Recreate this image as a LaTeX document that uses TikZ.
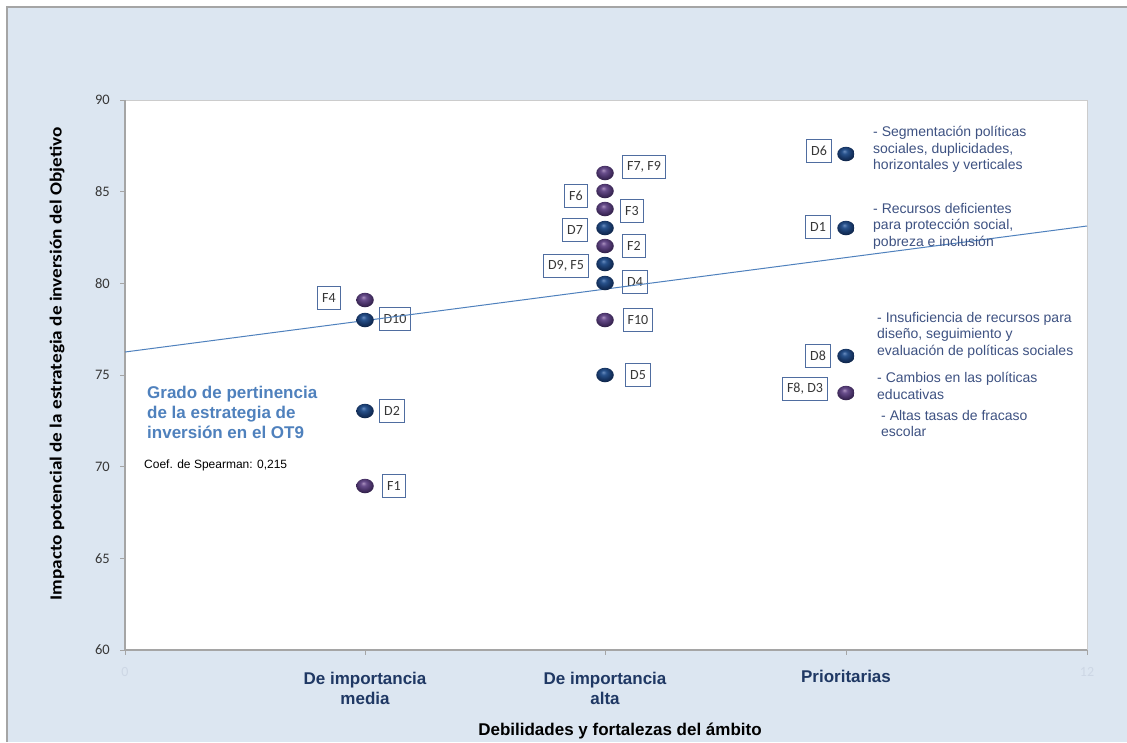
\documentclass[tikz,border=0pt]{standalone}
\usepackage{fontspec}
\usetikzlibrary{shapes.geometric}
\setmainfont{Liberation Sans}
\newfontfamily\cali{Carlito}
\definecolor{bgblue}{RGB}{220,230,241}
\definecolor{framegray}{RGB}{165,165,165}
\definecolor{axisgray}{RGB}{165,165,165}
\definecolor{boxblue}{RGB}{79,109,160}
\definecolor{lbltext}{RGB}{55,55,55}
\definecolor{notetext}{RGB}{62,82,130}
\definecolor{titleblue}{RGB}{79,129,189}
\definecolor{catblue}{RGB}{31,56,100}
\definecolor{trendblue}{RGB}{79,129,189}
\definecolor{faint}{RGB}{205,215,229}
\pgfdeclareradialshading{dball}{\pgfpoint{-5bp}{10bp}}{%
  color(0bp)=(rgb,255:red,105;green,140;blue,190);
  color(8bp)=(rgb,255:red,40;green,82;blue,140);
  color(20bp)=(rgb,255:red,22;green,52;blue,98);
  color(32bp)=(rgb,255:red,12;green,30;blue,60);
  color(50bp)=(rgb,255:red,12;green,30;blue,60)}
\pgfdeclareradialshading{fball}{\pgfpoint{-5bp}{10bp}}{%
  color(0bp)=(rgb,255:red,170;green,145;blue,190);
  color(8bp)=(rgb,255:red,105;green,78;blue,140);
  color(20bp)=(rgb,255:red,70;green,48;blue,100);
  color(32bp)=(rgb,255:red,38;green,24;blue,58);
  color(50bp)=(rgb,255:red,38;green,24;blue,58)}
\begin{document}
\begin{tikzpicture}[x=1pt,y=-1pt,
  dpt/.style={ellipse,minimum width=17.5pt,minimum height=14.5pt,inner sep=0pt,shading=dball},
  fpt/.style={ellipse,minimum width=17.5pt,minimum height=14.5pt,inner sep=0pt,shading=fball},
  lbl/.style={draw=boxblue,fill=white,line width=1pt,font=\cali\fontsize{14}{14}\selectfont,text=lbltext,inner xsep=4.5pt,inner ysep=0pt,minimum height=22.5pt},
  note/.style={align=left,anchor=north west,font=\fontsize{14}{16.5}\selectfont,text=notetext,inner sep=0pt},
  ytick/.style={anchor=east,font=\cali\fontsize{14.5}{14.5}\selectfont,text=lbltext,inner sep=0pt},
  cat/.style={align=center,font=\bfseries\fontsize{17}{20}\selectfont,text=catblue,anchor=north,inner sep=0pt}]
\useasboundingbox (0,0) rectangle (1127,742);
\fill[white] (0,0) rectangle (1127,742);
\fill[bgblue] (7,7) rectangle (1127,742);
\draw[framegray,line width=2.5pt] (7,742) -- (7,7) -- (1127,7);
% plot area
\fill[white] (125,100) rectangle (1087,650);
\draw[gray!40,line width=0.8pt] (125,100) -- (1087,100) -- (1087,650);
\draw[axisgray,line width=1.6pt] (125,100) -- (125,650) -- (1087,650);
% y ticks
\foreach \v/\yy in {90/100,85/191.7,80/283.3,75/375,70/466.7,65/558.3,60/650}{
  \draw[axisgray,line width=1pt] (120,\yy) -- (125,\yy);
  \node[ytick] (yt\v) at (110,\yy) {\v};
}
\foreach \xx in {125,365,605,846,1087}{
  \draw[axisgray,line width=1pt] (\xx,650) -- (\xx,655);
}
\node[text=faint,font=\cali\fontsize{14}{14}\selectfont] (x0) at (125,672) {0};
\node[text=faint,font=\cali\fontsize{14}{14}\selectfont] (x12) at (1087,672) {12};
% category labels
\node[cat] (c1) at (365,672) {De importancia\\media};
\node[cat] (c2) at (605,672) {De importancia\\alta};
\node[cat] (c3) at (846,670) {Prioritarias};
% axis titles
\node[font=\bfseries\fontsize{17}{17}\selectfont,inner sep=0pt] (xtitle) at (620,731) {Debilidades y fortalezas del ámbito};
\node[font=\cali\bfseries\fontsize{17}{17}\selectfont,rotate=90,inner sep=0pt] (ytitle) at (57,364) {\scalebox{1.13}[1]{Impacto potencial de la estrategia de inversión del Objetivo}};
% label boxes
\node[lbl] (lF4) at (329,298) {F4};
\node[lbl] (lD10) at (395,319) {D10};
\node[lbl] (lD2) at (392,411) {D2};
\node[lbl] (lF1) at (394,486) {F1};
\node[lbl] (lF7) at (644,167) {F7, F9};
\node[lbl] (lF6) at (576,196) {F6};
\node[lbl] (lF3) at (632,211) {F3};
\node[lbl] (lD7) at (575,230) {D7};
\node[lbl] (lF2) at (634,246) {F2};
\node[lbl] (lD9) at (566,266) {D9, F5};
\node[lbl] (lD4) at (635,282) {D4};
\node[lbl] (lF10) at (638,320) {F10};
\node[lbl] (lD5) at (638,375) {D5};
\node[lbl] (lD6) at (819,151) {D6};
\node[lbl] (lD1) at (818,227) {D1};
\node[lbl] (lD8) at (818,356) {D8};
\node[lbl] (lF8) at (805,389) {F8, D3};
% trend line
\coordinate (t0) at (125,352);
\coordinate (t1) at (1087,226);
\draw[trendblue,line width=1pt] (t0) -- (t1);
% points
\node[fpt] (F4) at (365,300) {};
\node[dpt] (D10) at (365,320) {};
\node[dpt] (D2) at (365,411) {};
\node[fpt] (F1) at (365,486) {};
\node[fpt] (F7) at (605,173) {};
\node[fpt] (F6) at (605,191) {};
\node[fpt] (F3) at (605,209) {};
\node[dpt] (D7) at (605,228) {};
\node[fpt] (F2) at (605,246) {};
\node[dpt] (D9) at (605,264) {};
\node[dpt] (D4) at (605,283) {};
\node[fpt] (F10) at (605,320) {};
\node[dpt] (D5) at (605,375) {};
\node[dpt] (D6) at (846,154) {};
\node[dpt] (D1) at (846,228) {};
\node[dpt] (D8) at (846,356) {};
\node[fpt] (F8) at (846,393) {};
% notes
\node[note] (n1) at (873,126) {- Segmentación políticas\\sociales, duplicidades,\\horizontales y verticales};
\node[note] (n2) at (873,203) {- Recursos deficientes\\para protección social,\\pobreza e inclusión};
\node[note] (n3) at (877,312) {- Insuficiencia de recursos para\\diseño, seguimiento y\\evaluación de políticas sociales};
\node[note] (n4) at (877,372) {- Cambios en las políticas\\educativas};
\node[note] (n5) at (881,410) {- Altas tasas de fracaso\\escolar};
% left title
\node[anchor=north west,align=left,inner sep=0pt,font=\bfseries\fontsize{17}{20}\selectfont,text=titleblue] (gtitle) at (147,386) {Grado de pertinencia\\de la estrategia de\\inversión en el OT9};
\node[anchor=west,inner sep=0pt,font=\fontsize{12}{12}\selectfont] (coef) at (144,465) {Coef. de Spearman: 0,215};
\end{tikzpicture}
\end{document}
